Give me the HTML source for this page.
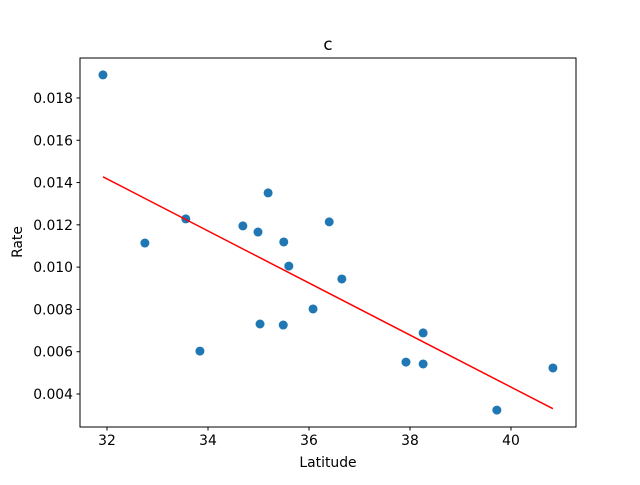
<!DOCTYPE html>
<html><head><meta charset="utf-8"><style>body{margin:0;background:#fff}svg text{font-family:"DejaVu Sans","Liberation Sans",sans-serif;fill:#000}</style></head>
<body>
<svg id="c" width="640" height="480"></svg>
<script>
const lat=[31.92,32.75,33.56,33.84,34.69,34.99,35.03,35.19,35.49,35.50,35.60,36.08,36.40,36.65,37.92,38.26,38.26,39.72,40.83];
const rate=[0.01909,0.01114,0.01228,0.00603,0.01195,0.01166,0.00731,0.01351,0.00726,0.01119,0.01005,0.00802,0.01214,0.00944,0.00551,0.00689,0.00542,0.00324,0.00523];
const xTicks=[32,34,36,38,40];
const yTicks=[0.004,0.006,0.008,0.010,0.012,0.014,0.016,0.018];
const L=80,R=576,T=58,B=427,x0=31.465,x1=41.287,y0=0.002439,y1=0.01989;
const X=v=>L+(v-x0)/(x1-x0)*(R-L), Y=v=>B-(v-y0)/(y1-y0)*(B-T);
const s=document.getElementById('c'),NS='http://www.w3.org/2000/svg';
function el(t,a,p){const e=document.createElementNS(NS,t);for(const k in a)e.setAttribute(k,a[k]);(p||s).appendChild(e);return e;}
lat.forEach((v,i)=>{const c=el('circle',{cx:X(v),cy:Y(rate[i]),r:4.5,fill:'#1f77b4'});

});
const n=lat.length,mx=lat.reduce((a,b)=>a+b)/n,my=rate.reduce((a,b)=>a+b)/n;
let sxy=0,sxx=0;lat.forEach((v,i)=>{sxy+=(v-mx)*(rate[i]-my);sxx+=(v-mx)**2;});
const m=sxy/sxx,b=my-m*mx,xa=Math.min(...lat),xb=Math.max(...lat);
const ln=el('line',{x1:X(xa),y1:Y(m*xa+b),x2:X(xb),y2:Y(m*xb+b),stroke:'red','stroke-width':1.5});


const fr=el('rect',{x:L,y:T,width:R-L,height:B-T,fill:'none',stroke:'#000','stroke-width':1});


xTicks.forEach(v=>{el('line',{x1:X(v),x2:X(v),y1:B,y2:B+3.5,stroke:'#000'});
const t=el('text',{x:X(v),y:B+18,'font-size':13.9,'text-anchor':'middle'});t.textContent=v;

});
yTicks.forEach(v=>{el('line',{x1:L-3.5,x2:L,y1:Y(v),y2:Y(v),stroke:'#000'});
const t=el('text',{x:L-7,y:Y(v)+5,'font-size':13.9,'text-anchor':'end'});t.textContent=v.toFixed(3);

});
</script>
<svg width="640" height="480" style="position:absolute;left:0;top:0">
<text x="328" y="50" font-size="16.7" text-anchor="middle">c</text>
<text x="328" y="467" font-size="13.9" text-anchor="middle">Latitude</text>
<text transform="translate(22,242) rotate(-90)" font-size="13.9" text-anchor="middle">Rate</text>
</svg>
</body></html>
